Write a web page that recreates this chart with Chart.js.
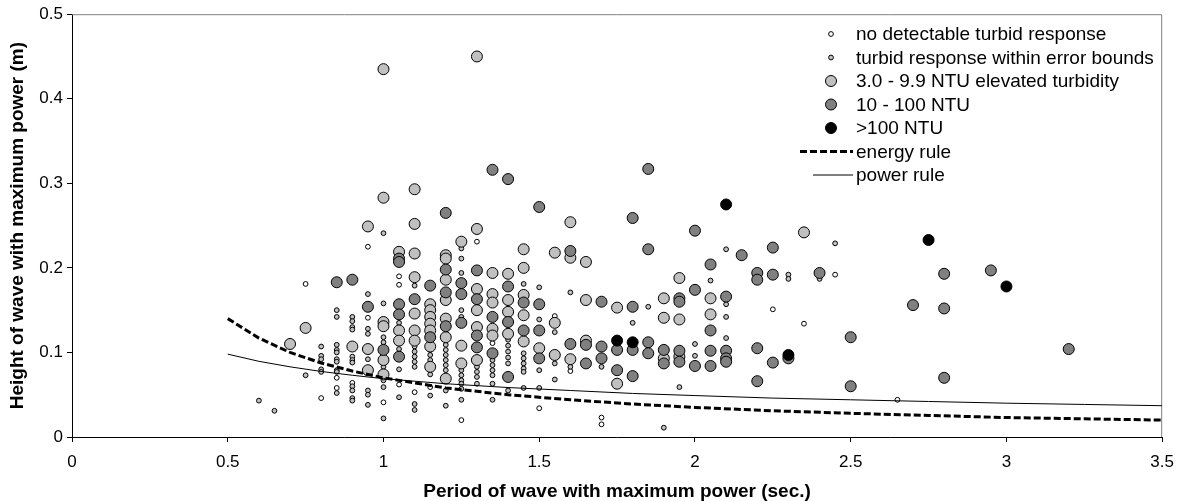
<!doctype html>
<html lang="en">
<head>
<meta charset="utf-8">
<title>Wave height vs period</title>
<style>
  * { margin: 0; padding: 0; }
  body { background: #fff; }
  .chartBox { width: 1184px; height: 501px; }
</style>
</head>
<body>
<div class="chartBox"><canvas id="myChart"></canvas></div>
<script src="https://cdn.jsdelivr.net/npm/chart.js"></script>
<script>
// [period (s), height (m)]
const noResponse = [
  [0.75,0.181],[0.80,0.046],[0.85,0.070],[0.85,0.058],[0.90,0.064],[0.95,0.225],[0.95,0.141],
  [1.00,0.041],[1.05,0.190],[1.05,0.180],[1.05,0.062],[1.10,0.053],[1.15,0.059],[1.25,0.020],
  [1.30,0.231],[1.35,0.111],[1.50,0.034],[1.55,0.143],[1.60,0.078],[1.70,0.023],[1.70,0.015],
  [2.25,0.151],[2.35,0.134],[2.45,0.192],[2.65,0.044]
];
const withinError = [
  [0.60,0.043],[0.65,0.031],[0.75,0.073],[0.80,0.107],[0.80,0.096],[0.80,0.092],[0.80,0.080],[0.80,0.077],
  [0.85,0.150],[0.85,0.142],[0.85,0.109],[0.85,0.103],[0.85,0.100],[0.85,0.092],[0.85,0.089],[0.85,0.079],
  [0.85,0.077],[0.85,0.052],
  [0.90,0.142],[0.90,0.137],[0.90,0.130],[0.90,0.127],[0.90,0.095],[0.90,0.091],[0.90,0.088],[0.90,0.060],
  [0.90,0.055],[0.90,0.046],[0.90,0.043],
  [0.95,0.169],[0.95,0.128],[0.95,0.122],[0.95,0.092],[0.95,0.055],[0.95,0.050],[0.95,0.038],
  [1.00,0.241],[1.00,0.158],[1.00,0.118],[1.00,0.112],[1.00,0.083],[1.00,0.067],[1.00,0.059],[1.00,0.022],
  [1.05,0.135],[1.05,0.104],[1.05,0.080],[1.05,0.047],
  [1.10,0.179],[1.10,0.107],[1.10,0.101],[1.10,0.095],[1.10,0.089],[1.10,0.083],[1.10,0.039],[1.10,0.032],
  [1.15,0.103],[1.15,0.097],[1.15,0.091],[1.15,0.074],[1.15,0.049],
  [1.20,0.109],[1.20,0.103],[1.20,0.097],[1.20,0.091],[1.20,0.085],[1.20,0.079],[1.20,0.055],[1.20,0.037],
  [1.25,0.223],[1.25,0.211],[1.25,0.194],[1.25,0.150],[1.25,0.142],[1.25,0.079],[1.25,0.073],[1.25,0.067],
  [1.25,0.063],[1.25,0.057],[1.25,0.044],
  [1.30,0.083],[1.30,0.077],[1.30,0.071],[1.30,0.063],
  [1.35,0.091],[1.35,0.085],[1.35,0.079],[1.35,0.073],[1.35,0.063],[1.35,0.044],
  [1.40,0.115],[1.40,0.108],[1.40,0.101],[1.40,0.094],[1.40,0.087],[1.40,0.055],
  [1.45,0.181],[1.45,0.099],[1.45,0.093],[1.45,0.087],[1.45,0.081],[1.45,0.077],[1.45,0.058],
  [1.50,0.177],[1.50,0.139],[1.50,0.079],[1.50,0.058],
  [1.55,0.124],[1.55,0.087],[1.55,0.068],[1.60,0.171],[1.60,0.083],[1.70,0.083],
  [1.80,0.135],[1.85,0.154],[1.90,0.011],[1.95,0.059],[2.00,0.110],[2.00,0.096],[2.05,0.185],
  [2.10,0.222],[2.10,0.157],[2.10,0.142],[2.10,0.117],[2.30,0.192],[2.30,0.187],[2.40,0.187],[2.45,0.229]
];
const elevated = [
  [0.70,0.110],[0.75,0.129],[0.90,0.107],[0.95,0.249],[0.95,0.104],[0.95,0.079],
  [1.00,0.435],[1.00,0.283],[1.00,0.136],[1.00,0.131],[1.00,0.091],[1.00,0.074],
  [1.05,0.219],[1.05,0.126],[1.05,0.114],
  [1.10,0.293],[1.10,0.252],[1.10,0.217],[1.10,0.189],[1.10,0.146],[1.10,0.126],[1.10,0.114],
  [1.15,0.157],[1.15,0.150],[1.15,0.142],[1.15,0.134],[1.15,0.126],[1.15,0.107],[1.15,0.083],
  [1.20,0.215],[1.20,0.211],[1.20,0.186],[1.20,0.162],[1.20,0.140],[1.20,0.118],[1.20,0.069],
  [1.25,0.231],[1.25,0.108],[1.25,0.087],
  [1.30,0.450],[1.30,0.246],[1.30,0.175],[1.30,0.150],[1.30,0.130],[1.30,0.091],
  [1.35,0.194],[1.35,0.169],[1.35,0.159],[1.35,0.128],[1.35,0.120],
  [1.40,0.193],[1.40,0.162],[1.40,0.148],[1.40,0.122],
  [1.45,0.222],[1.45,0.200],[1.45,0.168],[1.45,0.144],[1.45,0.113],[1.50,0.105],
  [1.55,0.218],[1.55,0.135],[1.55,0.097],[1.60,0.254],[1.60,0.212],[1.60,0.092],
  [1.65,0.207],[1.65,0.162],[1.65,0.114],[1.75,0.153],[1.75,0.063],
  [1.90,0.164],[1.90,0.141],[1.90,0.093],[1.95,0.188],[1.95,0.139],[1.95,0.095],
  [2.05,0.164],[2.05,0.145],[2.35,0.242]
];
const ntu10to100 = [
  [0.85,0.183],[0.90,0.186],[0.95,0.154],[1.00,0.103],
  [1.05,0.211],[1.05,0.207],[1.05,0.157],[1.05,0.145],[1.05,0.095],[1.10,0.163],
  [1.15,0.179],[1.15,0.118],[1.20,0.265],[1.20,0.198],[1.20,0.171],[1.20,0.131],
  [1.25,0.182],[1.25,0.169],[1.25,0.135],[1.30,0.197],[1.30,0.163],[1.30,0.120],[1.30,0.106],
  [1.35,0.316],[1.35,0.142],[1.35,0.099],[1.40,0.305],[1.40,0.178],[1.40,0.136],[1.40,0.071],
  [1.45,0.159],[1.45,0.126],[1.50,0.272],[1.50,0.157],[1.50,0.126],[1.50,0.093],
  [1.60,0.220],[1.60,0.110],[1.65,0.109],[1.65,0.087],[1.70,0.160],[1.70,0.107],[1.70,0.093],
  [1.75,0.103],[1.75,0.079],[1.80,0.259],[1.80,0.154],[1.80,0.103],[1.80,0.072],
  [1.85,0.317],[1.85,0.222],[1.85,0.112],[1.85,0.099],[1.90,0.103],[1.90,0.087],
  [1.95,0.164],[1.95,0.160],[1.95,0.102],[1.95,0.089],[2.00,0.244],[2.00,0.174],[2.00,0.084],
  [2.05,0.204],[2.05,0.126],[2.05,0.102],[2.05,0.084],[2.10,0.166],[2.10,0.102],[2.10,0.093],[2.10,0.089],
  [2.15,0.215],[2.20,0.194],[2.20,0.186],[2.20,0.105],[2.20,0.066],[2.25,0.224],[2.25,0.192],[2.25,0.088],
  [2.30,0.093],[2.40,0.194],[2.50,0.118],[2.50,0.060],[2.70,0.156],[2.80,0.193],[2.80,0.152],[2.80,0.070],
  [2.95,0.197],[3.20,0.104]
];
const over100 = [[1.75,0.114],[1.80,0.112],[2.10,0.275],[2.30,0.097],[2.75,0.233],[3.00,0.178]];

const rulePeriods = [0.5, 0.6, 0.7, 0.8, 0.9, 1.0, 1.2, 1.4, 1.6, 1.8, 2.0, 2.25, 2.5, 2.75, 3.0, 3.25, 3.5];
const energyRule  = [0.140, 0.117, 0.100, 0.0875, 0.078, 0.070, 0.058, 0.050, 0.044, 0.039, 0.035, 0.031, 0.028, 0.0255, 0.023, 0.0215, 0.020];
const powerRule   = [0.098, 0.0895, 0.083, 0.0775, 0.073, 0.069, 0.063, 0.0585, 0.055, 0.0515, 0.049, 0.046, 0.044, 0.042, 0.040, 0.0385, 0.037];

const xTicks = [0, 0.5, 1, 1.5, 2, 2.5, 3, 3.5];
const yTicks = [0, 0.1, 0.2, 0.3, 0.4, 0.5];

const FONT = 'Liberation Sans, Arial, sans-serif';
const toPts = arr => arr.map(p => ({x: p[0], y: p[1]}));
const toLine = ys => rulePeriods.map((x, i) => ({x: x, y: ys[i]}));

function pointSet(label, data, fill, radius, order) {
  return {
    label: label, data: toPts(data), backgroundColor: fill, borderColor: '#000',
    borderWidth: 1, pointRadius: radius, pointHoverRadius: radius, order: order
  };
}

const data = {
  datasets: [
    pointSet('no detectable turbid response', noResponse, '#ffffff', 2.4, 5),
    pointSet('turbid response within error bounds', withinError, '#c0c0c0', 2.4, 4),
    pointSet('3.0 - 9.9 NTU elevated turbidity', elevated, '#c0c0c0', 5.5, 3),
    pointSet('10 - 100 NTU', ntu10to100, '#808080', 5.5, 2),
    pointSet('>100 NTU', over100, '#000000', 5.5, 1),
    { type: 'line', label: 'energy rule', data: toLine(energyRule), borderColor: '#000',
      borderWidth: 3, borderDash: [7, 3], pointRadius: 0, fill: false, order: 0 },
    { type: 'line', label: 'power rule', data: toLine(powerRule), borderColor: '#000',
      borderWidth: 1, pointRadius: 0, fill: false, order: 0 }
  ]
};

// gray frame on top and right of plot
const framePlugin = {
  id: 'frame',
  beforeDatasetsDraw(chart) {
    const {ctx, chartArea: a} = chart;
    ctx.save();
    ctx.strokeStyle = '#808080';
    ctx.lineWidth = 1;
    ctx.beginPath();
    ctx.moveTo(a.left, a.top + 0.5);
    ctx.lineTo(a.right - 0.5, a.top + 0.5);
    ctx.lineTo(a.right - 0.5, a.bottom);
    ctx.stroke();
    ctx.restore();
  }
};

// legend in the top right corner
const legendPlugin = {
  id: 'cornerLegend',
  afterDraw(chart) {
    const ctx = chart.ctx;
    const markX = 831, textX = 856, y0 = 34, step = 23.5;
    ctx.save();
    ctx.font = '19px ' + FONT;
    ctx.fillStyle = '#000';
    ctx.textBaseline = 'middle';
    chart.data.datasets.forEach((ds, i) => {
      const y = y0 + i * step;
      ctx.strokeStyle = '#000';
      if (ds.type === 'line') {
        ctx.lineWidth = ds.borderWidth;
        ctx.setLineDash(ds.borderDash || []);
        ctx.beginPath();
        ctx.moveTo(ds.borderDash ? 800 : 813, y);
        ctx.lineTo(853, y);
        ctx.stroke();
        ctx.setLineDash([]);
      } else {
        ctx.lineWidth = 1;
        ctx.beginPath();
        ctx.arc(markX, y, ds.pointRadius, 0, Math.PI * 2);
        ctx.fillStyle = ds.backgroundColor;
        ctx.fill();
        ctx.stroke();
      }
      ctx.fillStyle = '#000';
      ctx.fillText(ds.label, textX, y + 1);
    });
    ctx.restore();
  }
};

const config = {
  type: 'scatter',
  data,
  options: {
    responsive: true,
    maintainAspectRatio: false,
    animation: false,
    events: [],
    layout: { padding: { top: 14, right: 15, left: 0, bottom: 0 } },
    plugins: { legend: { display: false }, tooltip: { enabled: false } },
    scales: {
      x: {
        type: 'linear', min: 0, max: 3.5,
        afterBuildTicks: s => { s.ticks = xTicks.map(v => ({value: v})); },
        afterFit: s => { s.height = 64; },
        ticks: { color: '#000', padding: 10, font: { family: FONT, size: 17 }, callback: v => String(v) },
        grid: { drawOnChartArea: false, drawTicks: true, tickLength: 5, tickColor: '#000' },
        border: { display: true, color: '#000', width: 1 },
        title: { display: true, text: 'Period of wave with maximum power (sec.)', color: '#000',
                 padding: { top: 0, bottom: 0 }, font: { family: FONT, size: 19, weight: 'bold', lineHeight: 1 } }
      },
      y: {
        min: 0, max: 0.5,
        afterBuildTicks: s => { s.ticks = yTicks.map(v => ({value: v})); },
        afterFit: s => { s.width = 72; },
        ticks: { color: '#000', padding: 4, font: { family: FONT, size: 17 }, callback: v => String(+v.toFixed(1)) },
        grid: { drawOnChartArea: false, drawTicks: true, tickLength: 5, tickColor: '#000' },
        border: { display: true, color: '#000', width: 1 },
        title: { display: true, text: 'Height of wave with maximum power (m)', color: '#000',
                 padding: { top: 8, bottom: 0 }, font: { family: FONT, size: 19, weight: 'bold', lineHeight: 1 } }
      }
    }
  },
  plugins: [framePlugin, legendPlugin]
};

const myChart = new Chart(document.getElementById('myChart'), config);
</script>
</body>
</html>
